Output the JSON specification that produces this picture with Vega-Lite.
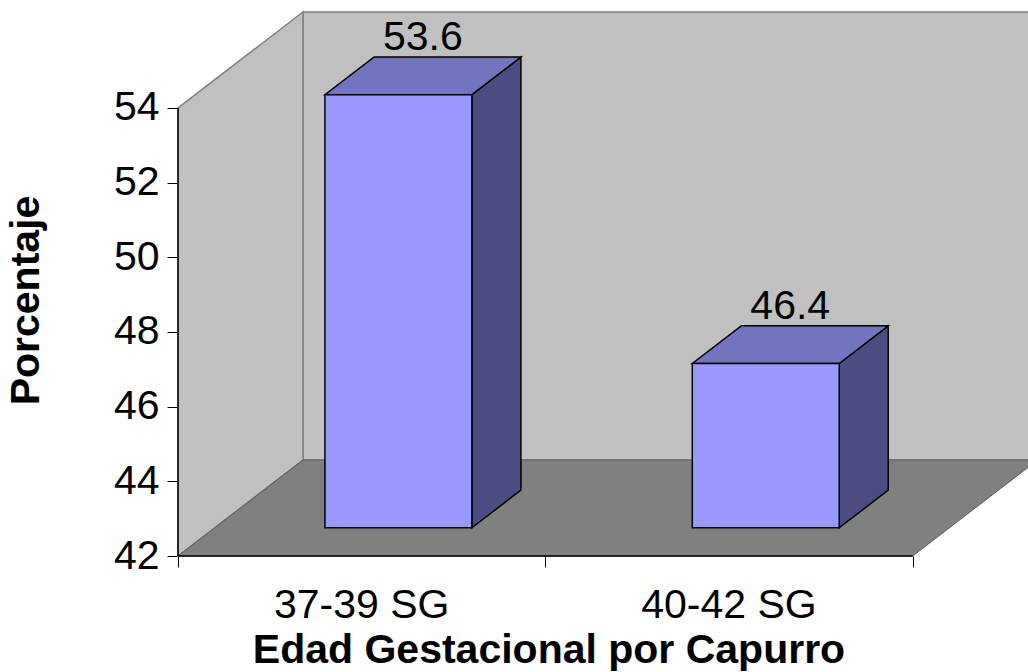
{
  "$schema": "https://vega.github.io/schema/vega-lite/v6.json",
  "width": 850,
  "height": 544,
  "autosize": {"type": "none"},
  "padding": {"left": 178, "top": 12, "right": 0, "bottom": 116},
  "background": "white",
  "config": {"view": {"stroke": null}, "font": "Liberation Sans"},
  "params": [
    {"name": "profX", "value": 0.3403},
    {"name": "profY", "value": 2.571},
    {"name": "frente", "value": 0.294},
    {"name": "fondo", "value": 0.686},
    {"name": "semiAncho", "value": 0.2}
  ],
  "datasets": {
    "barras": [
      {"categoria": "37-39 SG", "porcentaje": 53.6},
      {"categoria": "40-42 SG", "porcentaje": 46.4}
    ],
    "planos": [
      {"plano": "pared trasera"},
      {"plano": "pared lateral"},
      {"plano": "piso"}
    ],
    "ejes": [
      {"eje": "vertical"},
      {"eje": "horizontal"}
    ]
  },
  "encoding": {
    "x": {
      "field": "px",
      "type": "quantitative",
      "stack": null,
      "scale": {"domain": [0, 2.3139], "nice": false, "zero": false},
      "axis": {
        "values": [0, 1, 2],
        "domain": false,
        "grid": false,
        "labels": false,
        "ticks": true,
        "tickSize": 11,
        "tickColor": "black",
        "tickWidth": 1,
        "title": "Edad Gestacional por Capurro",
        "titleFont": "Liberation Sans",
        "titleFontSize": 41,
        "titleFontWeight": "bold",
        "titleColor": "black",
        "titleX": 370.5,
        "titleY": 106.7,
        "titleAlign": "center",
        "titleBaseline": "alphabetic"
      }
    },
    "y": {
      "field": "py",
      "type": "quantitative",
      "stack": null,
      "scale": {"domain": [42, 56.57], "nice": false, "zero": false},
      "axis": {
        "values": [42, 44, 46, 48, 50, 52, 54],
        "domain": false,
        "grid": false,
        "ticks": true,
        "tickSize": 11,
        "tickColor": "black",
        "tickWidth": 1,
        "labelFont": "Liberation Sans",
        "labelFontSize": 41,
        "labelColor": "black",
        "labelPadding": 8,
        "labelFlush": false,
        "labelOverlap": false,
        "title": "Porcentaje",
        "titleFont": "Liberation Sans",
        "titleFontSize": 41,
        "titleFontWeight": "bold",
        "titleColor": "black",
        "titleAngle": -90,
        "titleX": -151.5,
        "titleY": 288,
        "titleAlign": "center",
        "titleBaseline": "middle"
      }
    }
  },
  "layer": [
    {
      "data": {"name": "planos"},
      "transform": [
        {"filter": "datum.plano === 'pared trasera'"},
        {"calculate": "profX", "as": "px"},
        {"calculate": "2 + 2 * profX", "as": "px2"},
        {"calculate": "42 + profY", "as": "py"},
        {"calculate": "54 + profY", "as": "py2"}
      ],
      "mark": {"type": "rect", "fill": "#C0C0C0", "stroke": "#808080", "strokeWidth": 1.5},
      "encoding": {
        "x2": {"field": "px2"},
        "y2": {"field": "py2"}
      }
    },
    {
      "data": {"name": "planos"},
      "transform": [
        {"filter": "datum.plano === 'pared lateral'"},
        {"calculate": "[0, 1]", "as": "d"},
        {"flatten": ["d"]},
        {"calculate": "datum.d * profX", "as": "px"},
        {"calculate": "42 + datum.d * profY", "as": "py"},
        {"calculate": "54 + datum.d * profY", "as": "py2"}
      ],
      "mark": {"type": "area", "orient": "vertical", "fill": "#C0C0C0", "stroke": "#808080", "strokeWidth": 1.5, "opacity": 1},
      "encoding": {
        "y2": {"field": "py2"}
      }
    },
    {
      "data": {"name": "planos"},
      "transform": [
        {"filter": "datum.plano === 'piso'"},
        {"calculate": "[0, 1]", "as": "d"},
        {"flatten": ["d"]},
        {"calculate": "datum.d * profX", "as": "px"},
        {"calculate": "2 + datum.d * profX", "as": "px2"},
        {"calculate": "42 + datum.d * profY", "as": "py"}
      ],
      "mark": {"type": "area", "orient": "horizontal", "fill": "#808080", "stroke": "#5A5A5A", "strokeWidth": 1, "opacity": 1},
      "encoding": {
        "x2": {"field": "px2"}
      }
    },
    {
      "data": {"name": "ejes"},
      "transform": [
        {"calculate": "0", "as": "px"},
        {"calculate": "datum.eje === 'horizontal' ? 2 : 0", "as": "px2"},
        {"calculate": "42", "as": "py"},
        {"calculate": "datum.eje === 'vertical' ? 54 : 42", "as": "py2"}
      ],
      "mark": {"type": "rule", "color": "black", "strokeWidth": 1.5},
      "encoding": {
        "x2": {"field": "px2"},
        "y2": {"field": "py2"}
      }
    },
    {
      "data": {"name": "barras"},
      "transform": [
        {"window": [{"op": "row_number", "as": "orden"}]},
        {"calculate": "datum.orden - 0.5", "as": "pos"},
        {"calculate": "[frente, fondo]", "as": "d"},
        {"flatten": ["d"]},
        {"calculate": "datum.pos + semiAncho + datum.d * profX", "as": "px"},
        {"calculate": "42 + datum.d * profY", "as": "py"},
        {"calculate": "datum.porcentaje + datum.d * profY", "as": "py2"}
      ],
      "mark": {"type": "area", "orient": "vertical", "fill": "#4C4C80", "stroke": "black", "strokeWidth": 1.5, "strokeJoin": "miter", "opacity": 1},
      "encoding": {
        "y2": {"field": "py2"},
        "detail": {"field": "categoria"}
      }
    },
    {
      "data": {"name": "barras"},
      "transform": [
        {"window": [{"op": "row_number", "as": "orden"}]},
        {"calculate": "datum.orden - 0.5", "as": "pos"},
        {"calculate": "[frente, fondo]", "as": "d"},
        {"flatten": ["d"]},
        {"calculate": "datum.pos - semiAncho + datum.d * profX", "as": "px"},
        {"calculate": "datum.pos + semiAncho + datum.d * profX", "as": "px2"},
        {"calculate": "datum.porcentaje + datum.d * profY", "as": "py"}
      ],
      "mark": {"type": "area", "orient": "horizontal", "fill": "#7373BF", "stroke": "black", "strokeWidth": 1.5, "strokeJoin": "miter", "opacity": 1},
      "encoding": {
        "x2": {"field": "px2"},
        "detail": {"field": "categoria"}
      }
    },
    {
      "data": {"name": "barras"},
      "transform": [
        {"window": [{"op": "row_number", "as": "orden"}]},
        {"calculate": "datum.orden - 0.5", "as": "pos"},
        {"calculate": "datum.pos - semiAncho + frente * profX", "as": "px"},
        {"calculate": "datum.pos + semiAncho + frente * profX", "as": "px2"},
        {"calculate": "42 + frente * profY", "as": "py"},
        {"calculate": "datum.porcentaje + frente * profY", "as": "py2"}
      ],
      "mark": {"type": "rect", "fill": "#9999FF", "stroke": "black", "strokeWidth": 1.5},
      "encoding": {
        "x2": {"field": "px2"},
        "y2": {"field": "py2"}
      }
    },
    {
      "data": {"name": "barras"},
      "transform": [
        {"window": [{"op": "row_number", "as": "orden"}]},
        {"calculate": "datum.orden - 0.5", "as": "pos"},
        {"calculate": "datum.pos + (frente + fondo) / 2 * profX", "as": "px"},
        {"calculate": "datum.porcentaje + fondo * profY", "as": "py"}
      ],
      "mark": {"type": "text", "fontSize": 41, "font": "Liberation Sans", "color": "black", "baseline": "alphabetic", "align": "center", "dy": -7},
      "encoding": {
        "text": {"field": "porcentaje", "type": "quantitative", "format": ".1f"}
      }
    },
    {
      "data": {"name": "barras"},
      "transform": [
        {"window": [{"op": "row_number", "as": "orden"}]},
        {"calculate": "datum.orden - 0.5", "as": "px"},
        {"calculate": "42", "as": "py"}
      ],
      "mark": {"type": "text", "fontSize": 41, "font": "Liberation Sans", "color": "black", "baseline": "alphabetic", "align": "center", "dy": 62},
      "encoding": {
        "text": {"field": "categoria", "type": "nominal"}
      }
    }
  ]
}
